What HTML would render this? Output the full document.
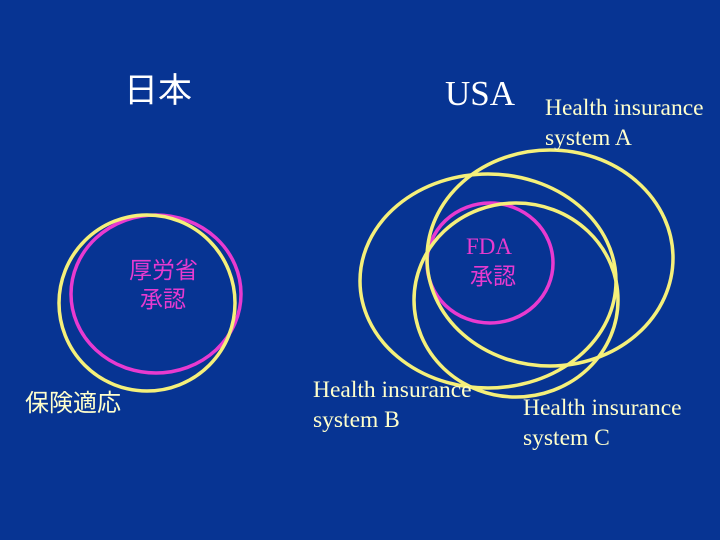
<!DOCTYPE html>
<html><head><meta charset="utf-8"><style>
body{margin:0;width:720px;height:540px;background:#073493;overflow:hidden;position:relative;}
.t{position:absolute;white-space:nowrap;line-height:1;}
.s{font-family:"Liberation Serif",serif;color:#ffffcc;font-size:23.5px;line-height:30px;}
.j{font-family:"Liberation Sans","Noto Sans CJK JP",sans-serif;}
svg{position:absolute;left:0;top:0;}
</style></head><body>
<svg width="720" height="540">
<g fill="none" stroke-width="3.5">
<ellipse cx="156" cy="294" rx="85" ry="79" stroke="#e83ad0"/>
<ellipse cx="147" cy="303" rx="88" ry="88" stroke="#f5f07a"/>
<ellipse cx="490" cy="263" rx="63" ry="60" stroke="#e83ad0"/>
<ellipse cx="550" cy="258" rx="123" ry="108" stroke="#f5f07a"/>
<ellipse cx="488" cy="281" rx="128" ry="107" stroke="#f5f07a"/>
<ellipse cx="516" cy="300" rx="102" ry="97" stroke="#f5f07a"/>
</g>
</svg>
<div class="t j" style="left:124px;top:74px;font-size:34px;color:#fff;">日本</div>
<div class="t" style="left:445px;top:76px;font-size:35px;color:#fff;font-family:'Liberation Serif',serif;">USA</div>
<div class="t s" style="left:545px;top:93px;">Health insurance<br>system A</div>
<div class="t s" style="left:313px;top:375px;">Health insurance<br>system B</div>
<div class="t s" style="left:523px;top:393px;">Health insurance<br>system C</div>
<div class="t j" style="left:129px;top:259px;font-size:23px;color:#e83ad0;">厚労省</div>
<div class="t j" style="left:140px;top:288px;font-size:23px;color:#e83ad0;">承認</div>
<div class="t j" style="left:25px;top:392px;font-size:24px;color:#ffffcc;">保険適応</div>
<div class="t" style="left:466px;top:235px;font-size:23px;color:#e83ad0;font-family:'Liberation Serif',serif;">FDA</div>
<div class="t j" style="left:470px;top:265px;font-size:23px;color:#e83ad0;">承認</div>
</body></html>
